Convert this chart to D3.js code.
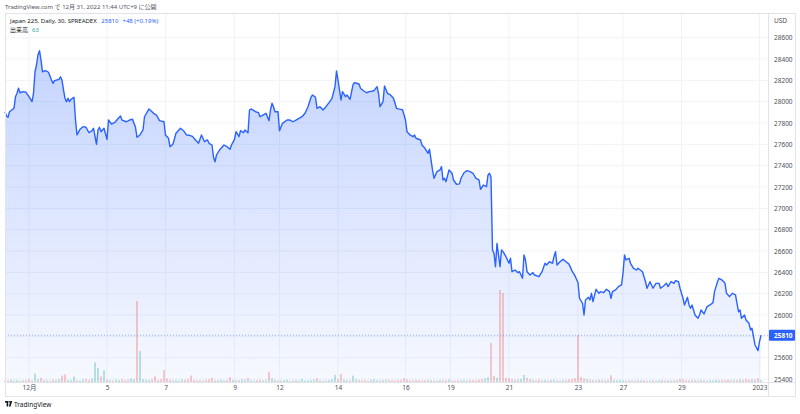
<!DOCTYPE html>
<html lang="ja">
<head>
<meta charset="utf-8">
<title>Japan 225, 30</title>
<script src="https://d3js.org/d3.v7.min.js"></script>
<style type="text/css">
  body { margin: 0; background: #fff; }
  svg text { font-family: "Noto Sans", "Noto Sans CJK JP", sans-serif; }
  .axis text { fill: #4b4f5a; font-size: 6.5px; }
  .axis path, .axis line { display: none; }
  .grid { stroke: #f0f3fa; stroke-width: 1; }
  .frame { stroke: #e0e3eb; stroke-width: 1; fill: none; }
  .linestyle { fill: none; stroke: #2962ff; stroke-width: 1.4px; stroke-linejoin: round; }
</style>
</head>
<body>
<script type="text/javascript">

// 30-minute closes, [bar number, price]
var closes = [[0,27906],[1,27866],[2,27854],[3,27906],[6,27938],[7,28047],[8,28079],[9,28126],[10,28084],[12,28094],
  [14,28088],[16,28047],[18,28000],[19,28079],[20,28281],[21,28344],[22,28438],[23,28478],[24,28391],[25,28281],
  [27,28291],[29,28276],[31,28203],[32,28172],[33,28197],[36,28210],[37,28234],[38,28203],[39,28110],[40,28032],
  [41,28000],[42,28032],[43,28000],[44,28022],[46,28041],[47,27828],[48,27688],[50,27741],[52,27766],[54,27760],
  [56,27709],[58,27728],[59,27751],[61,27601],[62,27735],[63,27760],[64,27719],[66,27751],[68,27647],[69,27828],
  [71,27791],[73,27803],[75,27835],[77,27866],[78,27828],[81,27812],[83,27828],[85,27835],[87,27760],[88,27666],
  [90,27688],[92,27735],[93,27859],[96,27932],[98,27906],[99,27891],[101,27875],[103,27822],[106,27812],[107,27688],
  [109,27657],[110,27578],[112,27603],[114,27704],[117,27751],[119,27728],[121,27688],[123,27685],[125,27675],[127,27641],
  [129,27610],[131,27688],[133,27625],[135,27641],[136,27610],[138,27594],[139,27479],[140,27437],[141,27500],[143,27547],
  [146,27594],[148,27578],[150,27554],[151,27594],[153,27647],[154,27719],[156,27672],[157,27728],[159,27709],[160,27735],
  [162,27709],[163,27922],[164,27932],[167,27906],[169,27897],[170,27859],[172,27875],[174,27891],[176,27822],[177,27922],
  [178,27985],[179,27953],[180,27906],[182,27906],[183,27728],[185,27797],[188,27828],[190,27828],[192,27812],[194,27828],
  [196,27844],[198,27859],[200,27891],[202,27953],[204,28041],[205,28063],[207,28041],[208,27938],[210,27953],[212,27922],
  [214,27953],[216,27991],[218,28032],[220,28141],[221,28288],[222,28203],[224,28016],[225,28094],[227,28047],[228,28063],
  [230,28022],[232,28157],[233,28178],[236,28166],[237,28126],[239,28103],[241,28084],[243,28094],[246,28103],[248,28141],
  [249,28079],[250,27953],[252,28000],[253,28147],[255,28079],[257,28063],[259,28032],[261,27938],[263,27930],[265,27925],
  [267,27828],[268,27719],[270,27688],[272,27672],[273,27688],[274,27657],[277,27641],[278,27594],[280,27563],[282,27516],
  [283,27554],[285,27360],[286,27282],[288,27344],[290,27360],[291,27391],[292,27266],[293,27282],[294,27250],[296,27360],
  [298,27329],[299,27266],[301,27226],[303,27229],[304,27282],[306,27334],[308,27353],[310,27344],[312,27329],[314,27282],
  [316,27266],[317,27179],[319,27219],[321,27203],[322,27313],[323,27329],[324,27291],[325,26610],[326,26579],[327,26453],
  [328,26672],[329,26563],[330,26453],[331,26610],[332,26594],[334,26547],[336,26485],[337,26532],[338,26406],[340,26422],
  [342,26397],[343,26406],[345,26344],[346,26563],[347,26516],[348,26406],[350,26375],[352,26397],[353,26375],[356,26359],
  [358,26406],[360,26485],[361,26469],[363,26500],[365,26485],[366,26547],[367,26594],[368,26469],[370,26500],[372,26522],
  [374,26500],[376,26477],[378,26414],[380,26367],[382,26303],[383,26157],[385,26110],[386,26000],[387,26141],[389,26166],
  [390,26141],[391,26204],[392,26125],[394,26241],[396,26204],[397,26219],[399,26209],[401,26241],[403,26219],[404,26157],
  [405,26219],[407,26235],[409,26266],[411,26282],[412,26391],[413,26563],[414,26516],[416,26532],[417,26485],[419,26438],
  [421,26422],[422,26438],[425,26406],[426,26359],[427,26312],[428,26251],[430,26312],[431,26282],[432,26251],[434,26297],
  [436,26297],[437,26251],[439,26272],[441,26297],[442,26266],[444,26312],[446,26297],[447,26322],[449,26312],[450,26251],
  [452,26157],[453,26094],[455,26166],[456,26094],[457,26063],[458,26094],[460,26000],[462,25969],[463,26000],[464,26047],
  [466,26010],[468,26078],[470,26094],[472,26116],[473,26219],[475,26312],[476,26344],[478,26328],[480,26297],[481,26204],
  [483,26172],[485,26204],[487,26188],[488,26110],[489,26031],[490,26047],[491,25969],[493,26000],[494,25953],[496,25922],
  [497,25860],[498,25875],[499,25797],[500,25719],[502,25666],[503,25750],[504,25810]];

// volume, one value every 2 bars (bar = 2 * index)
var volume = [60,45,70,40,55,35,50,65,80,45,
  270,90,130,60,50,40,75,55,90,210,
  245,70,60,180,55,45,80,95,60,110,
  640,460,185,390,80,65,50,75,60,90,
  55,70,110,85,2640,1010,95,70,60,85,
  185,60,90,390,115,70,55,60,45,80,
  65,90,210,70,55,60,45,70,80,130,
  55,60,70,50,65,160,70,55,60,90,
  75,130,60,45,55,70,50,60,330,120,
  65,50,45,60,70,40,55,60,50,100,
  45,55,60,75,120,55,40,50,60,85,
  230,90,260,75,60,55,210,80,65,55,
  60,45,70,85,55,50,60,75,65,55,
  45,60,70,120,85,55,50,65,60,45,
  55,70,60,50,45,65,55,60,80,50,
  45,60,55,70,50,65,60,55,75,90,
  110,150,1270,195,140,3000,2900,130,115,90,
  70,85,100,230,130,90,70,60,85,55,
  65,50,60,75,55,45,70,60,80,95,
  120,1530,160,110,90,70,60,55,75,60,
  50,65,220,70,55,60,45,50,60,55,
  45,60,50,55,40,50,60,45,55,70,
  50,60,45,55,65,100,80,60,55,70,
  60,50,65,55,45,60,50,70,55,65,
  60,75,55,70,60,80,65,90,70,85,
  75,115,63];

var timeTicks = [16, 68, 107, 153, 183, 222, 267, 297, 336, 382, 412, 451, 503];
var timeLabels = ["12月", "5", "7", "9", "12", "14", "16", "19", "21", "23", "27", "29", "2023"];
var priceTicks = [25400, 25600, 25800, 26000, 26200, 26400, 26600, 26800, 27000,
                  27200, 27400, 27600, 27800, 28000, 28200, 28400, 28600];
var lastPrice = 25810;
var lastVolume = 63;

var w = 800, h = 414;
var pane = {left: 5, right: 768, top: 13, bottom: 382};
var outerRight = 795, outerBottom = 396;

var svg = d3.select("body").append("svg")
  .attr("width", w).attr("height", h);

var xScale = d3.scaleLinear().domain([0, 504]).range([5, 761]);
var yScale = d3.scaleLinear().domain([25400, 28600]).range([379, 37.7]);
var volScale = d3.scaleLinear().domain([0, 3000]).range([0, 92]);

// gradient for the area
var defs = svg.append("defs");
var grad = defs.append("linearGradient").attr("id", "areaFill")
  .attr("gradientUnits", "userSpaceOnUse")
  .attr("x1", 0).attr("x2", 0).attr("y1", 45).attr("y2", pane.bottom);
grad.append("stop").attr("offset", "0%").attr("stop-color", "rgba(41,98,255,0.28)");
grad.append("stop").attr("offset", "100%").attr("stop-color", "rgba(41,98,255,0.04)");

// grid
svg.append("g").selectAll("line.h").data(priceTicks).join("line")
  .attr("class", "grid")
  .attr("x1", pane.left).attr("x2", pane.right)
  .attr("y1", d => yScale(d)).attr("y2", d => yScale(d));
svg.append("g").selectAll("line.v").data(timeTicks).join("line")
  .attr("class", "grid")
  .attr("x1", d => xScale(d)).attr("x2", d => xScale(d))
  .attr("y1", pane.top).attr("y2", pane.bottom);

// area + line
var area = d3.area()
  .x(d => xScale(d[0]))
  .y0(pane.bottom)
  .y1(d => yScale(d[1]));
svg.append("path").datum(closes)
  .attr("d", area).attr("fill", "url(#areaFill)");

// volume bars, coloured by direction of the price line
var bis = d3.bisector(d => d[0]).right;
svg.append("g").selectAll("rect").data(volume).join("rect")
  .attr("x", (d, i) => xScale(i * 2) - 0.6)
  .attr("width", 1.2)
  .attr("y", d => pane.bottom - volScale(d))
  .attr("height", d => volScale(d))
  .attr("fill", (d, i) => {
    var k = Math.max(1, bis(closes, i * 2) - 1);
    return closes[k][1] >= closes[k - 1][1] ? "rgba(38,166,154,0.5)" : "rgba(239,83,80,0.5)";
  });

var lineGen = d3.line()
  .x(d => xScale(d[0]))
  .y(d => yScale(d[1]));
svg.append("path").datum(closes)
  .attr("class", "linestyle")
  .attr("d", lineGen);

// last price dotted line
svg.append("line")
  .attr("x1", pane.left).attr("x2", pane.right)
  .attr("y1", yScale(lastPrice)).attr("y2", yScale(lastPrice))
  .attr("stroke", "#2962ff").attr("stroke-opacity", 0.45)
  .attr("stroke-width", 1).attr("stroke-dasharray", "1,2");

// frame
svg.append("rect").attr("class", "frame")
  .attr("x", pane.left + 0.5).attr("y", pane.top + 0.5)
  .attr("width", outerRight - pane.left).attr("height", outerBottom - pane.top);
svg.append("line").attr("class", "frame")
  .attr("x1", pane.right + 0.5).attr("x2", pane.right + 0.5)
  .attr("y1", pane.top).attr("y2", outerBottom + 0.5);
svg.append("line").attr("class", "frame")
  .attr("x1", pane.left).attr("x2", outerRight + 0.5)
  .attr("y1", pane.bottom + 0.5).attr("y2", pane.bottom + 0.5);

// price axis
var yAxis = d3.axisRight(yScale).tickValues(priceTicks).tickSize(0).tickPadding(0)
  .tickFormat(d3.format("d"));
svg.append("g").attr("class", "axis")
  .attr("transform", `translate(${pane.right + 6}, 0)`)
  .call(yAxis);
svg.append("text").attr("x", pane.right + 6).attr("y", 23)
  .attr("font-size", "6.5px").attr("fill", "#4b4f5a").text("USD");

// last price label
var lp = svg.append("g").attr("transform", `translate(${pane.right + 1}, ${yScale(lastPrice)})`);
lp.append("rect").attr("x", 0).attr("y", -5.5).attr("width", 26).attr("height", 11)
  .attr("rx", 1).attr("fill", "#2962ff");
lp.append("text").attr("x", 5).attr("y", 2.3)
  .attr("font-size", "6.5px").attr("font-weight", "bold").attr("fill", "#fff").text(lastPrice);

// time axis
var xAxis = d3.axisBottom(xScale).tickValues(timeTicks).tickSize(0).tickPadding(0)
  .tickFormat((d, i) => timeLabels[i]);
svg.append("g").attr("class", "axis")
  .attr("transform", `translate(0, ${pane.bottom + 3})`)
  .call(xAxis);

// header and legend
svg.append("text").attr("x", 5).attr("y", 9)
  .attr("font-size", "6px").attr("fill", "#50535e")
  .text("TradingView.com で 12月 31, 2022 11:44 UTC+9 に公開");

var leg = svg.append("text").attr("x", 10).attr("y", 23).attr("font-size", "6px");
leg.append("tspan").attr("fill", "#131722").text("Japan 225, Daily, 30, SPREADEX ");
leg.append("tspan").attr("fill", "#2962ff").attr("dx", 3).text(lastPrice);
leg.append("tspan").attr("fill", "#2962ff").attr("dx", 4).text("+48 (+0.19%)");

var leg2 = svg.append("text").attr("x", 10).attr("y", 32).attr("font-size", "6px");
leg2.append("tspan").attr("fill", "#131722").text("出来高");
leg2.append("tspan").attr("fill", "#26a69a").attr("dx", 4).text(lastVolume);

// footer: small logo mark + name
var foot = svg.append("g").attr("transform", "translate(5, 404)");
foot.append("rect").attr("x", 0).attr("y", -3).attr("width", 3.2).attr("height", 1.6).attr("fill", "#131722");
foot.append("rect").attr("x", 1.6).attr("y", -3).attr("width", 1.6).attr("height", 5.5).attr("fill", "#131722");
foot.append("circle").attr("cx", 4.5).attr("cy", -2.2).attr("r", 0.8).attr("fill", "#131722");
foot.append("path").attr("d", "M5.4,-3 L7.2,-3 L5.6,2.5 L3.8,2.5 Z").attr("fill", "#131722");
foot.append("text").attr("x", 9).attr("y", 2.5)
  .attr("font-size", "6.5px").attr("fill", "#131722").text("TradingView");

</script>
</body>
</html>
